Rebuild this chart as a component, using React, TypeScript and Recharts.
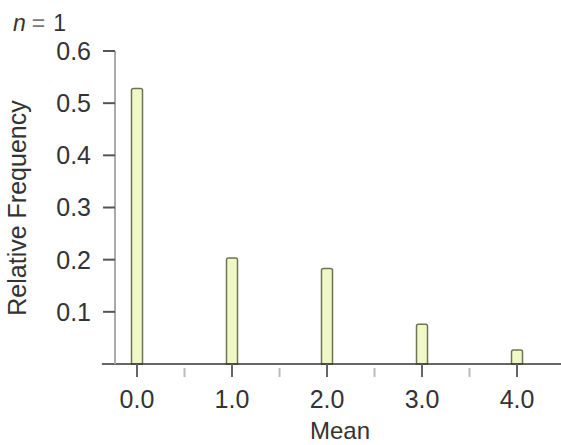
import { Bar, BarChart, Label, ReferenceLine, XAxis, YAxis } from "recharts";

const means = [0, 1, 2, 3, 4];
const frequencies = [0.528, 0.203, 0.183, 0.076, 0.027];
const xTicks = [0, 0.5, 1, 1.5, 2, 2.5, 3, 3.5, 4];
const yTicks = [0.1, 0.2, 0.3, 0.4, 0.5, 0.6];
const sampleSize = 1;

const data = means.map((m, i) => ({ mean: m, freq: frequencies[i] }));

const font = '"Liberation Sans", Arial, Helvetica, sans-serif';

function MeanTick(props: any) {
  const { x, y, payload } = props;
  const major = Number.isInteger(payload.value);
  return (
    <g>
      <line
        x1={x}
        x2={x}
        y1={major ? y : y + 4}
        y2={y + 13}
        stroke={major ? "#666" : "#bbb"}
        strokeWidth={2}
      />
      {major && (
        <text x={x} y={y + 44} textAnchor="middle" fontSize={25} fill="#333" fontFamily={font}>
          {payload.value.toFixed(1)}
        </text>
      )}
    </g>
  );
}

export default function App() {
  return (
    <div style={{ position: "absolute", left: 0, top: 0, width: 561, height: 445, background: "#fff" }}>
      <BarChart
        width={561}
        height={445}
        data={data}
        margin={{ top: 51, right: 0, bottom: 0, left: 0 }}
      >
        <XAxis
          type="number"
          dataKey="mean"
          domain={[-0.2316, 4.463]}
          allowDataOverflow
          ticks={xTicks}
          tick={<MeanTick />}
          tickSize={0}
          tickMargin={0}
          axisLine={false}
          tickLine={false}
          interval={0}
          height={81}
        >
          <Label
            content={() => (
              <text x={340} y={439} textAnchor="middle" fontSize={24} fill="#333" fontFamily={font}>
                Mean
              </text>
            )}
          />
        </XAxis>
        <YAxis
          type="number"
          domain={[0, 0.6]}
          ticks={yTicks}
          width={115}
          tickSize={12}
          tickMargin={12}
          interval={0}
          axisLine={{ stroke: "#aaa", strokeWidth: 2 }}
          tickLine={{ stroke: "#555", strokeWidth: 2 }}
          tick={{ fontSize: 25, fill: "#333", fontFamily: font }}
          tickFormatter={(v: number) => v.toFixed(1)}
        >
          <Label
            content={() => (
              <text
                x={26}
                y={208}
                transform="rotate(-90 26 208)"
                textAnchor="middle"
                fontSize={25}
                fill="#333"
                fontFamily={font}
              >
                Relative Frequency
              </text>
            )}
          />
        </YAxis>
        <Bar
          dataKey="freq"
          barSize={11}
          fill="#f0f8c8"
          stroke="#6e7552"
          strokeWidth={1.5}
          radius={[2, 2, 0, 0]}
          isAnimationActive={false}
        />
        <ReferenceLine
          segment={[
            { x: -0.37, y: 0 },
            { x: 4.463, y: 0 },
          ]}
          ifOverflow="visible"
          stroke="#333"
          strokeWidth={1.5}
        />
      </BarChart>
      <svg style={{ position: "absolute", left: 0, top: 0 }} width={120} height={40}>
        <text x={13} y={31} fontSize={23} fill="#333" fontFamily={font}>
          <tspan fontStyle="italic">n</tspan>
          <tspan fill="#777" dx={6}>=</tspan>
          <tspan dx={8}>{sampleSize}</tspan>
        </text>
      </svg>
    </div>
  );
}
